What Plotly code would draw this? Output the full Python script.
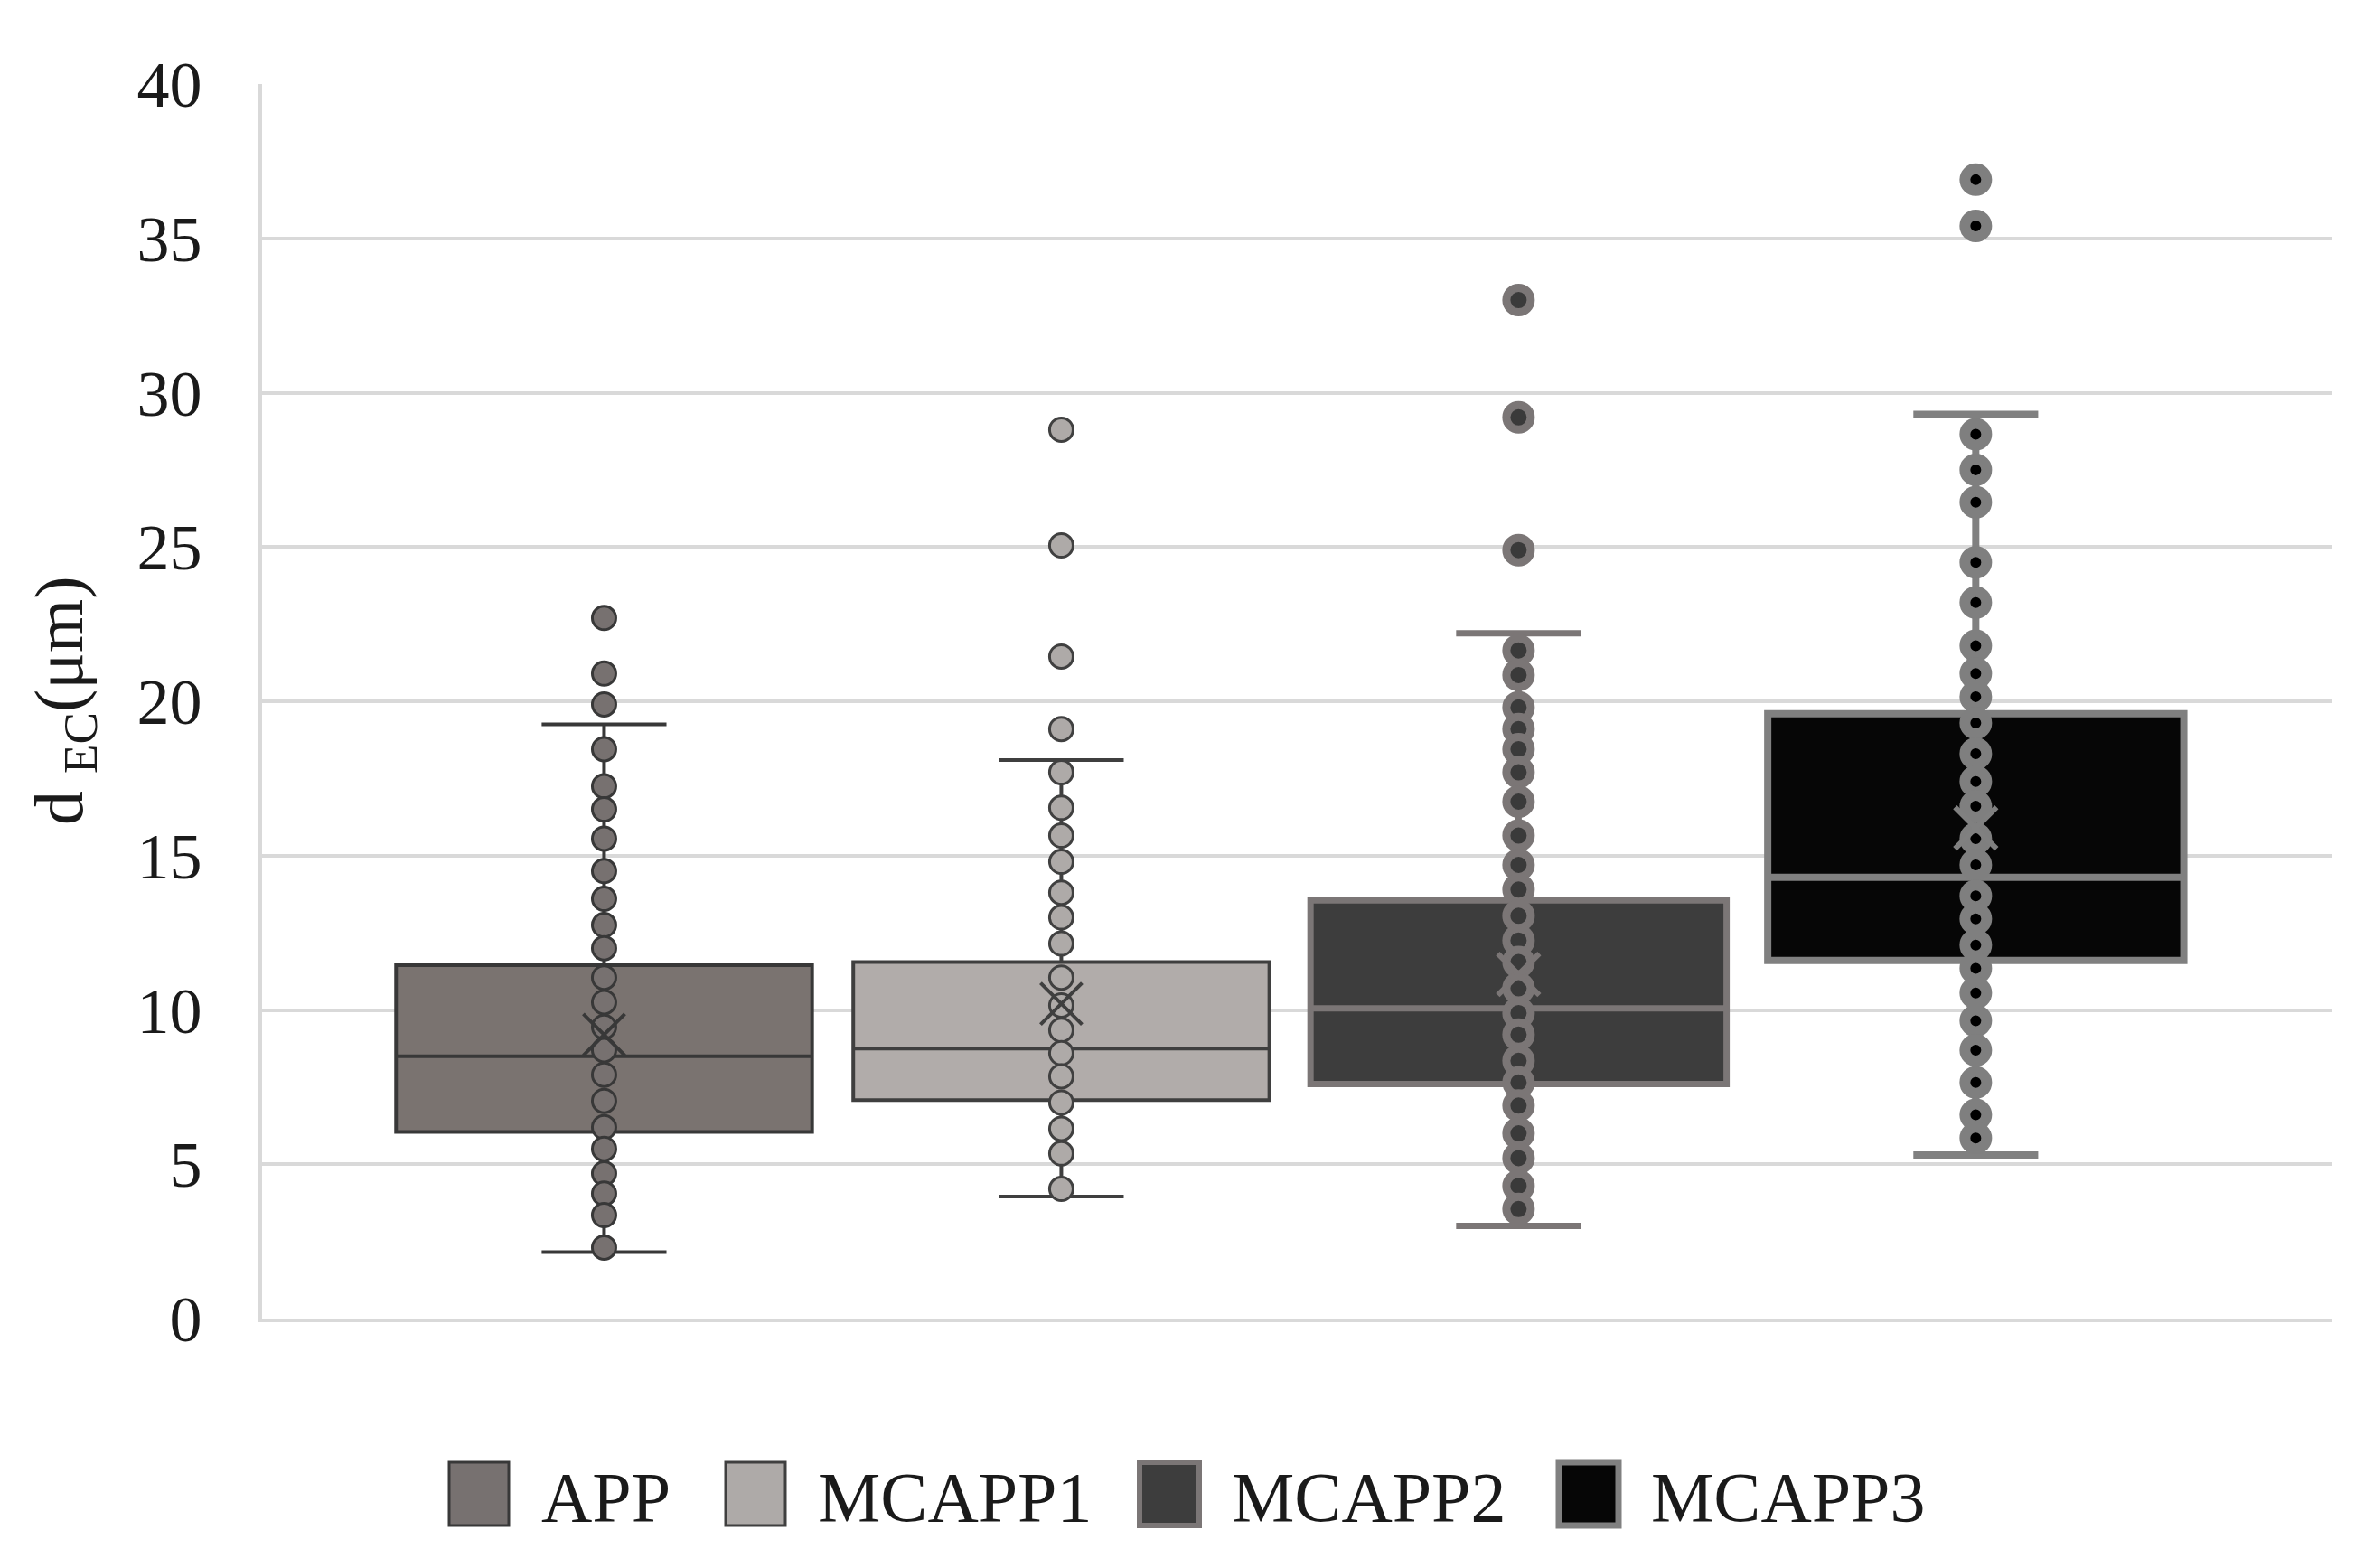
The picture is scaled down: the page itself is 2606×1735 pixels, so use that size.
import plotly.graph_objects as go

# ---------------- data ----------------
categories = ["APP", "MCAPP1", "MCAPP2", "MCAPP3"]
q1 = [6.05, 7.08, 7.6, 11.6]
median = [8.5, 8.75, 10.05, 14.3]
q3 = [11.45, 11.55, 13.55, 19.6]
lower_whisker = [2.15, 3.95, 3.0, 5.3]
upper_whisker = [19.25, 18.1, 22.2, 29.3]
mean = [9.2, 10.2, 11.15, 15.9]

app_points = [22.7, 20.9, 19.9, 18.45, 17.25, 16.5, 15.55, 14.5, 13.6, 12.75, 12.0,
              11.05, 10.25, 9.45, 8.7, 7.9, 7.05, 6.2, 5.5, 4.7, 4.05, 3.35, 2.3]
mcapp1_points = [28.8, 25.05, 21.45, 19.1, 17.7, 16.55, 15.65, 14.8, 13.8, 13.0, 12.15,
                 11.05, 10.15, 9.35, 8.6, 7.85, 7.0, 6.15, 5.35, 4.2]
mcapp2_points = [33.0, 29.2, 24.9, 21.65, 20.85, 19.8, 19.1, 18.45, 17.7, 16.75, 15.65,
                 14.7, 13.9, 13.05, 12.25, 11.55, 10.7, 9.9, 9.2, 8.35, 7.65, 6.9, 6.0,
                 5.2, 4.3, 3.55]
mcapp3_points = [36.9, 35.4, 28.65, 27.5, 26.45, 24.5, 23.2, 21.8, 20.9, 20.15, 19.3,
                 18.3, 17.4, 16.6, 15.55, 14.7, 13.7, 12.95, 12.1, 11.35, 10.55, 9.65,
                 8.7, 7.65, 6.6, 5.85]
points = [app_points, mcapp1_points, mcapp2_points, mcapp3_points]

y_ticks = [0, 5, 10, 15, 20, 25, 30, 35, 40]

# ---------------- styles ----------------
W, H = 2606, 1735
L, R, T, B = 282, 2573, 85, 1451
FONT = "Liberation Serif"

box_fill = ["#7a7370", "#b1acaa", "#3d3d3d", "#060606"]
box_line = ["#383838", "#3f3f3f", "#7b7676", "#808080"]
box_lw = [4, 4, 7, 8]
pt_fill = ["#777170", "#aeaaa8", "#3a3a3a", "#000000"]
pt_line = ["#383838", "#404040", "#7b7676", "#7f7f7f"]
pt_lw = [3, 3, 9, 12]
pt_size = [26, 26, 27, 24]
mean_lw = [4, 4, 6, 6]

fig = go.Figure()

for i, c in enumerate(categories):
    fig.add_trace(go.Box(
        x=[c], q1=[q1[i]], median=[median[i]], q3=[q3[i]],
        lowerfence=[lower_whisker[i]], upperfence=[upper_whisker[i]],
        name=c, boxpoints=False, width=0.91, whiskerwidth=0.3,
        fillcolor=box_fill[i], line=dict(color=box_line[i], width=box_lw[i]),
        showlegend=False, hoverinfo="skip",
    ))

for i, c in enumerate(categories):
    fig.add_trace(go.Scatter(
        x=[c] * len(points[i]), y=points[i], mode="markers", showlegend=False,
        marker=dict(symbol="circle", size=pt_size[i], color=pt_fill[i],
                    line=dict(color=pt_line[i], width=pt_lw[i])),
    ))

for i, c in enumerate(categories):
    fig.add_trace(go.Scatter(
        x=[c], y=[mean[i]], mode="markers", showlegend=False,
        marker=dict(symbol="x-thin", size=46, color=box_line[i],
                    line=dict(color=box_line[i], width=mean_lw[i])),
    ))

# ---------------- manual legend ----------------
def px_x(p):
    return (p - L) / (R - L)

def px_y(p):
    return (B - p) / (B - T)

legend_sq_x = [489, 795, 1253, 1717]
sq_w, sq_top, sq_bot = 66, 1610, 1680
shapes = []
annotations = []
for i, c in enumerate(categories):
    x0 = legend_sq_x[i]
    shapes.append(dict(type="rect", xref="paper", yref="paper",
                       x0=px_x(x0), x1=px_x(x0 + sq_w), y0=px_y(sq_bot), y1=px_y(sq_top),
                       fillcolor=pt_fill[i] if i < 2 else box_fill[i],
                       line=dict(color=box_line[i], width=box_lw[i] - 1)))
    annotations.append(dict(text=c, xref="paper", yref="paper",
                            x=px_x(x0 + sq_w + 34), y=px_y(1648),
                            xanchor="left", yanchor="middle", showarrow=False,
                            font=dict(family=FONT, size=78, color="#1a1a1a")))

annotations.append(dict(text="d <sub>EC</sub>(μm)", xref="paper", yref="paper",
                        x=px_x(63), y=0.5, xanchor="center", yanchor="middle",
                        textangle=-90, showarrow=False,
                        font=dict(family=FONT, size=76, color="#1a1a1a")))

fig.update_layout(
    width=W, height=H,
    margin=dict(l=L, r=W - R, t=T, b=H - B, pad=0),
    paper_bgcolor="white", plot_bgcolor="white",
    font=dict(family=FONT, color="#1a1a1a"),
    showlegend=False,
    shapes=shapes, annotations=annotations,
    xaxis=dict(type="category", categoryorder="array", categoryarray=categories,
               range=[-0.748, 3.78], showticklabels=False, ticks="",
               showgrid=False, zeroline=False,
               showline=True, linecolor="#d9d9d9", linewidth=4),
    yaxis=dict(range=[0, 40], tickvals=y_ticks, ticks="",
               showgrid=True, gridcolor="#d9d9d9", gridwidth=4,
               zeroline=False, showline=True, linecolor="#d9d9d9", linewidth=4,
               tickfont=dict(family=FONT, size=72, color="#1a1a1a"),
               ticklabelstandoff=48),
)

fig.write_html("out.html")
